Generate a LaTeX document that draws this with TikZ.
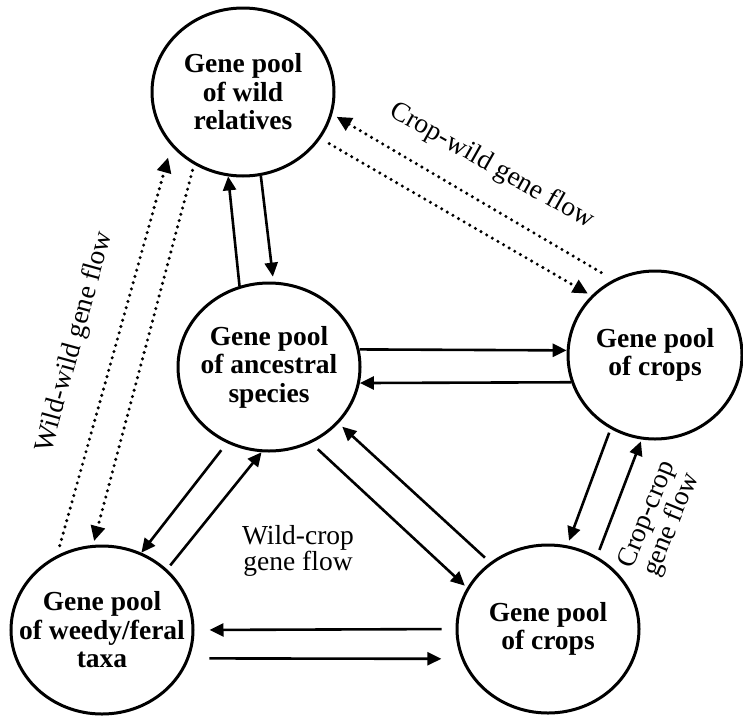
\documentclass[tikz,border=0pt]{standalone}
\usepackage{fontspec}
\setmainfont{Liberation Serif}
\usetikzlibrary{arrows.meta,shapes.geometric}

\begin{document}
\begin{tikzpicture}[x=1pt,y=-1pt,
    pool/.style={draw,ellipse,line width=3pt,minimum width=182pt,minimum height=168pt,
      inner xsep=-45pt,inner ysep=0pt,align=center,font=\fontsize{27.5}{28.5}\selectfont\bfseries},
    flow/.style={line width=2.6pt,-{Triangle[length=14pt,width=13pt]}},
    wflow/.style={line width=3.4pt,line cap=round,dash pattern=on 0pt off 6.5pt,
      -{Triangle[length=15pt,width=14pt]}},
    lab/.style={align=center,inner sep=0pt,font=\fontsize{27.5}{25}\selectfont}]
    \useasboundingbox (0,0) rectangle (743,715);
    \node[pool] (W) at (243,92) {Gene pool\\of wild\\relatives};
    \node[pool] (An) at (269,367) {Gene pool\\of ancestral\\species};
    \node[pool,minimum width=174pt] (Cr) at (655,355) {Gene pool\\of crops};
    \node[pool] (Wd) at (102,630) {Gene pool\\of weedy/feral\\taxa};
    \node[pool] (Cb) at (548,629) {Gene pool\\of crops};
    %\draw[red] (0,0) rectangle (743,715);
    \draw[flow] (An.110) -- (W.-100);
    \draw[flow,shorten >=5pt] (W.-78) -- (An.87);
    \draw[flow] (An.11) -- (Cr.177);
    \draw[flow] (Cr.198) -- (An.-10);
    \draw[flow,shorten <=9pt] (An.-119) -- (Wd.63);
    \draw[flow,shorten <=5pt] (Wd.43) -- (An.-95);
    \draw[flow,shorten <=9pt,shorten >=3pt] (An.-61) -- (Cb.153);
    \draw[flow,shorten <=7pt,shorten >=5pt] (Cb.131) -- (An.-39);
    \draw[flow,shorten <=14pt,shorten >=15pt] (Cb.180) -- (Wd.0);
    \draw[flow,shorten <=20pt,shorten >=20pt] (Wd.-18) -- (Cb.199);
    \draw[flow,shorten <=4pt,shorten >=5pt] (Cr.-121) -- (Cb.77);
    \draw[flow,shorten <=7pt,shorten >=2pt] (Cb.56) -- (Cr.-99);
    \draw[wflow,shorten <=14pt,shorten >=5pt] (Cr.119) -- (W.-14);
    \draw[wflow,shorten <=10pt,shorten >=4pt] (W.-31) -- (Cr.137);
    \draw[wflow,shorten <=10pt,shorten >=12pt] (Wd.121) -- (W.-143);
    \draw[wflow,shorten <=6pt,shorten >=4pt] (W.-124) -- (Wd.96);
    \node[lab,rotate=-29.5] (Lcw) at (492,166) {Crop-wild gene flow};
    \node[lab,rotate=74.6] (Lww) at (75,342) {Wild-wild gene flow};
    \node[lab] (Lwc) at (298,551) {Wild-crop\\gene flow};
    \node[lab,rotate=67.7] (Lcc) at (660,520) {Crop-crop\\gene flow};
\end{tikzpicture}
\end{document}
